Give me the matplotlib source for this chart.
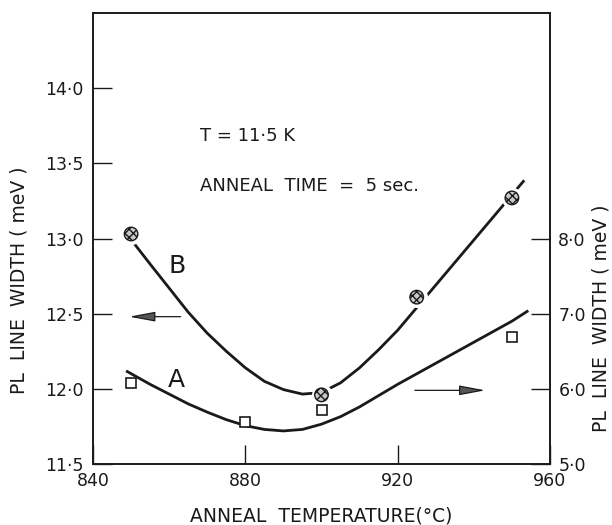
import matplotlib
matplotlib.use('Agg')
import matplotlib.pyplot as plt

# ---- data ----
temp_b = [850, 900, 925, 950]
width_b = [13.03, 11.96, 12.61, 13.27]          # left axis (meV)
temp_a = [850, 880, 900, 950]
width_a = [6.08, 5.56, 5.72, 6.69]              # right axis (meV)

curve_b_temp = [851, 855, 860, 865, 870, 875, 880, 885, 890, 895, 900,
                905, 910, 915, 920, 925, 930, 935, 940, 945, 950, 953]
curve_b_width = [12.96, 12.83, 12.67, 12.51, 12.37, 12.25, 12.14, 12.05, 11.995, 11.965,
                 11.975, 12.04, 12.14, 12.26, 12.39, 12.54, 12.69, 12.84, 12.99, 13.14,
                 13.29, 13.38]

curve_a_temp = [849, 855, 860, 865, 870, 875, 880, 885, 890, 895, 900, 905, 910,
                915, 920, 925, 930, 935, 940, 945, 950, 954]
curve_a_width = [6.23, 6.06, 5.93, 5.80, 5.69, 5.59, 5.51, 5.46, 5.44, 5.46, 5.53, 5.63,
                 5.76, 5.91, 6.06, 6.20, 6.34, 6.48, 6.62, 6.76, 6.90, 7.03]

x_ticks = [840, 880, 920, 960]
x_tick_labels = ['840', '880', '920', '960']
left_ticks = [11.5, 12.0, 12.5, 13.0, 13.5, 14.0]
left_tick_labels = ['11·5', '12·0', '12·5', '13·0', '13·5', '14·0']
right_ticks = [5.0, 6.0, 7.0, 8.0]
right_tick_labels = ['5·0', '6·0', '7·0', '8·0']

# arrows pointing to the axis each curve belongs to (tail -> head, left-axis units)
arrow_b = [(863, 12.48), (849.5, 12.48)]
arrow_a = [(924.5, 11.99), (943, 11.99)]

plt.rcParams['font.family'] = ['DejaVu Sans']

fig = plt.figure(figsize=(6.12, 5.25), dpi=100)
ax = fig.add_axes([93/612, 61/525, 457/612, 451/525])
ax.set_xlim(840, 960)
ax.set_ylim(11.5, 14.5)

ink = '#1a1a1a'

# curve B (left axis)
ax.plot(curve_b_temp, curve_b_width, color=ink, lw=2.0, zorder=2,
        solid_joinstyle='round')
ax.scatter(temp_b, width_b, s=230, marker='o', color='white', zorder=3, linewidths=0)
ax.scatter(temp_b, width_b, s=95, marker='o', facecolors='#c8c8c8', edgecolors=ink,
           hatch='xxxx', linewidths=1.0, zorder=4)

ax.set_xticks(x_ticks)
ax.set_xticklabels(x_tick_labels)
ax.set_yticks(left_ticks)
ax.set_yticklabels(left_tick_labels)
ax.tick_params(axis='both', direction='in', length=14, width=1.0, labelsize=12.5,
               colors=ink)
ax.tick_params(axis='x', pad=6)
ax.tick_params(axis='y', pad=7)
for s in ax.spines.values():
    s.set_linewidth(1.2)
    s.set_color(ink)

# text
ax.text(868, 13.68, 'T = 11·5 K', fontsize=13, ha='left', va='center', color=ink)
ax.text(868, 13.35, 'ANNEAL  TIME  =  5 sec.', fontsize=13, ha='left', va='center', color=ink)
ax.text(862, 12.82, 'B', fontsize=18, ha='center', va='center', color=ink)
ax.text(862, 12.06, 'A', fontsize=18, ha='center', va='center', color=ink)

for (tail, head) in (arrow_b, arrow_a):
    ax.annotate('', xy=head, xytext=tail,
                arrowprops=dict(arrowstyle='-|>,head_length=1.6,head_width=0.3',
                                edgecolor=ink, facecolor='#555555', lw=0.9,
                                mutation_scale=10, shrinkA=0, shrinkB=0))

ax.set_xlabel('ANNEAL  TEMPERATURE(°C)', fontsize=13.5, color=ink)
ax.xaxis.set_label_coords(0.5, -0.115)
ax.xaxis.label.set_va('center')
ax.set_ylabel('PL  LINE  WIDTH ( meV )', fontsize=13.5, color=ink)
ax.yaxis.set_label_coords(-0.162, 0.408)
ax.yaxis.label.set_va('center')

# right axis, curve A
ax2 = ax.twinx()
ax2.set_ylim(5.0, 11.0)
ax2.plot(curve_a_temp, curve_a_width, color=ink, lw=2.0, zorder=2,
         solid_joinstyle='round')
ax2.plot(temp_a, width_a, linestyle='none', marker='s', ms=7, mfc='white', mec=ink,
         mew=1.2, zorder=4)
ax2.set_yticks(right_ticks)
ax2.set_yticklabels(right_tick_labels)
ax2.tick_params(axis='y', direction='in', length=14, width=1.0, labelsize=12.5,
                pad=6, colors=ink)
for s in ax2.spines.values():
    s.set_linewidth(1.2)
    s.set_color(ink)
ax2.set_ylabel('PL  LINE  WIDTH ( meV )', fontsize=13.5, color=ink)
ax2.yaxis.set_label_coords(1.112, 0.324)
ax2.yaxis.label.set_va('center')
ax2.yaxis.label.set_rotation(90)

fig.savefig('out.png', dpi=100)
